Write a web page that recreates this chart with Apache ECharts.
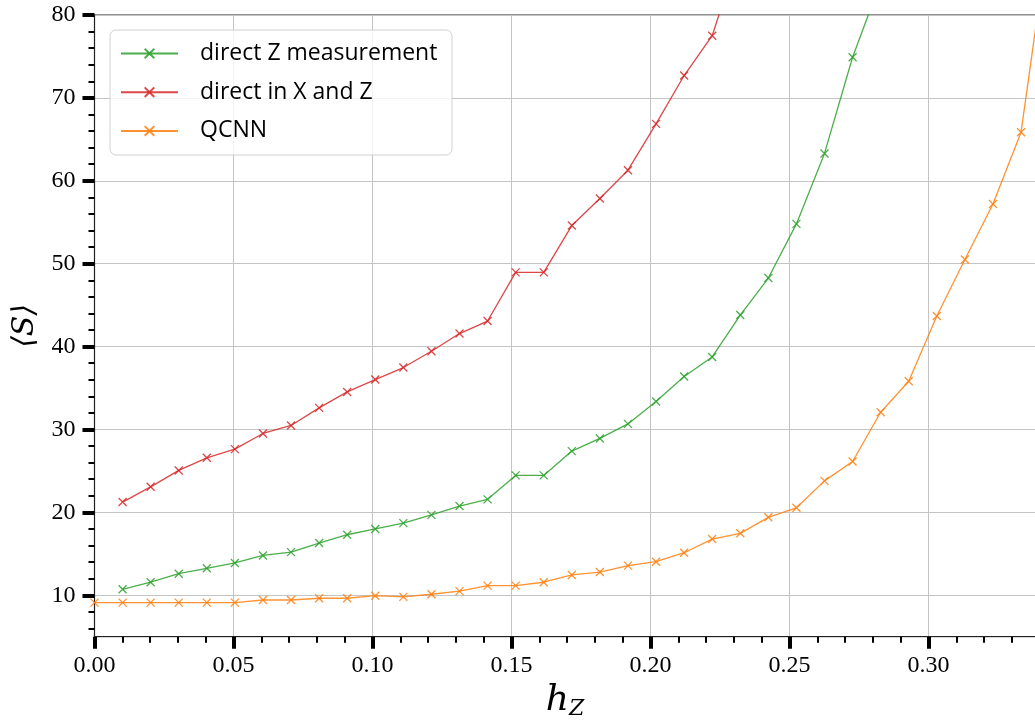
<!DOCTYPE html>
<html>
<head>
<meta charset="utf-8">
<script src="https://cdn.jsdelivr.net/npm/echarts@6/dist/echarts.min.js"></script>
<style>
html,body{margin:0;padding:0;background:#fff;}
#chart{width:1035px;height:721px;}
</style>
</head>
<body>
<div id="chart"></div>
<script>
// h_Z sample points (i/99)
const hZ = [0.0000, 0.0101, 0.0202, 0.0303, 0.0404, 0.0505, 0.0606, 0.0707, 0.0808, 0.0909,
            0.1010, 0.1111, 0.1212, 0.1313, 0.1414, 0.1515, 0.1616, 0.1717, 0.1818, 0.1919,
            0.2020, 0.2121, 0.2222, 0.2323, 0.2424, 0.2525, 0.2626, 0.2727, 0.2828, 0.2929,
            0.3030, 0.3131, 0.3232, 0.3333, 0.3434];

const seriesNames = ['direct Z measurement', 'direct in X and Z', 'QCNN'];

// direct Z measurement: starts at hZ[1]
const directZ = [10.72, 11.57, 12.6, 13.25, 13.9, 14.8, 15.2, 16.3, 17.3, 18.0,
                 18.7, 19.7, 20.76, 21.57, 24.46, 24.46, 27.39, 28.92, 30.67, 33.37,
                 36.39, 38.75, 43.8, 48.27, 54.8, 63.3, 74.9, 84.0];
// direct in X and Z: starts at hZ[1]
const directXZ = [21.24, 23.08, 25.06, 26.58, 27.63, 29.52, 30.48, 32.6, 34.53, 36.02,
                  37.47, 39.43, 41.57, 43.08, 48.95, 48.95, 54.6, 57.87, 61.28, 66.87,
                  72.7, 77.5, 88.0];
// QCNN: starts at hZ[0]
const qcnn = [9.11, 9.11, 9.11, 9.11, 9.11, 9.11, 9.43, 9.43, 9.64, 9.64,
              9.95, 9.8, 10.12, 10.5, 11.16, 11.16, 11.57, 12.45, 12.8, 13.57,
              14.05, 15.13, 16.78, 17.47, 19.4, 20.55, 23.8, 26.14, 32.08, 35.82,
              43.69, 50.5, 57.2, 65.86, 90.0];

const xMajorTicks = [0, 0.05, 0.10, 0.15, 0.20, 0.25, 0.30];
const xMinorTicks = [0.01,0.02,0.03,0.04,0.06,0.07,0.08,0.09,0.11,0.12,0.13,0.14,0.16,0.17,0.18,0.19,
                     0.21,0.22,0.23,0.24,0.26,0.27,0.28,0.29,0.31,0.32,0.33];
const yMajorTicks = [10, 20, 30, 40, 50, 60, 70, 80];
const yMinorTicks = [6, 8, 12, 14, 16, 18, 22, 24, 26, 28, 32, 34, 36, 38, 42, 44, 46, 48,
                     52, 54, 56, 58, 62, 64, 66, 68, 72, 74, 76, 78];

const X_MIN = 0, X_MAX = 0.3385, Y_MIN = 5, Y_MAX = 80;

const colors = ['#2ca02c', '#d62728', '#ff7f0e'];
const xPath = 'path://M0,0L10,10M10,0L0,10';

function pairs(ys, start) { return ys.map((v, k) => [hZ[start + k], v]); }

const chart = echarts.init(document.getElementById('chart'), null, {renderer: 'canvas'});

const gridLeft = 94.5, gridTop = 15, gridW = 941, gridH = 621.7;

function mkSeries(name, data, color) {
  return {
    name: name, type: 'line', data: data, xAxisIndex: 0, yAxisIndex: 0,
    symbol: xPath, symbolSize: 8, showSymbol: true, clip: true,
    lineStyle: {color: color, width: 1.3, opacity: 0.85},
    itemStyle: {color: 'none', borderColor: color, borderWidth: 1.3, opacity: 0.85},
    emphasis: {disabled: true}, animation: false
  };
}

const option = {
  animation: false,
  backgroundColor: '#ffffff',
  grid: {left: gridLeft, top: gridTop, width: gridW, height: gridH, show: true,
         borderColor: '#222', borderWidth: 1, backgroundColor: 'transparent',
         containLabel: false, outerBoundsMode: 'none'},
  graphic: [{
    type: 'rect', z: 50,
    shape: {x: 110, y: 30, width: 342, height: 125, r: 6},
    style: {fill: 'rgba(255,255,255,0.8)', stroke: '#d0d0d0', lineWidth: 1}
  }],
  legend: {
    z: 60, orient: 'vertical', left: 120, top: 41, padding: 0,
    itemWidth: 57, itemHeight: 12, itemGap: 13.7,
    data: seriesNames,
    textStyle: {fontFamily: 'Open Sans', fontSize: 23, color: '#000', lineHeight: 25, padding: [0,0,0,17]}
  },
  xAxis: [{
    type: 'value', min: X_MIN, max: X_MAX, interval: 0.05, position: 'bottom',
    axisLine: {show: true, onZero: false, lineStyle: {color: '#222', width: 1.2}},
    axisTick: {show: true, length: 12, customValues: xMajorTicks, lineStyle: {color: '#000', width: 4}},
    axisLabel: {customValues: xMajorTicks, margin: 17, formatter: v => v.toFixed(2),
                fontFamily: 'Liberation Serif', fontSize: 24, color: '#000'},
    splitLine: {show: true, lineStyle: {color: '#c4c4c4', width: 1}},
    name: '{h|h}{z|Z}', nameLocation: 'middle', nameGap: 44,
    nameTextStyle: {rich: {
      h: {fontFamily: 'DejaVu Serif', fontStyle: 'italic', fontSize: 36, color: '#000'},
      z: {fontFamily: 'DejaVu Serif', fontStyle: 'italic', fontSize: 22, color: '#000', verticalAlign: 'bottom', padding: [18,0,0,0]}
    }}
  }, {
    type: 'value', min: X_MIN, max: X_MAX, interval: 0.05, position: 'bottom',
    axisLine: {show: false},
    axisTick: {show: true, length: 6, customValues: xMinorTicks, lineStyle: {color: '#000', width: 2}},
    axisLabel: {show: false}, splitLine: {show: false}
  }],
  yAxis: [{
    type: 'value', min: Y_MIN, max: Y_MAX, interval: 5, position: 'left',
    axisLine: {show: true, onZero: false, lineStyle: {color: '#222', width: 1.2}},
    axisTick: {show: true, length: 12, customValues: yMajorTicks, lineStyle: {color: '#000', width: 4}},
    axisLabel: {customValues: yMajorTicks, margin: 19,
                fontFamily: 'Liberation Serif', fontSize: 24, color: '#000'},
    splitLine: {show: true, lineStyle: {color: '#c4c4c4', width: 1}},
    name: '⟨S⟩', nameLocation: 'middle', nameGap: 54, nameRotate: 90,
    nameTextStyle: {fontFamily: 'DejaVu Serif', fontStyle: 'italic', fontSize: 30, color: '#000'}
  }, {
    type: 'value', min: Y_MIN, max: Y_MAX, interval: 5, position: 'left',
    axisLine: {show: false},
    axisTick: {show: true, length: 6, customValues: yMinorTicks, lineStyle: {color: '#000', width: 2}},
    axisLabel: {show: false}, splitLine: {show: false}
  }],
  series: [
    mkSeries(seriesNames[0], pairs(directZ, 1), colors[0]),
    mkSeries(seriesNames[1], pairs(directXZ, 1), colors[1]),
    mkSeries(seriesNames[2], pairs(qcnn, 0), colors[2])
  ]
};
chart.setOption(option);
</script>
</body>
</html>
